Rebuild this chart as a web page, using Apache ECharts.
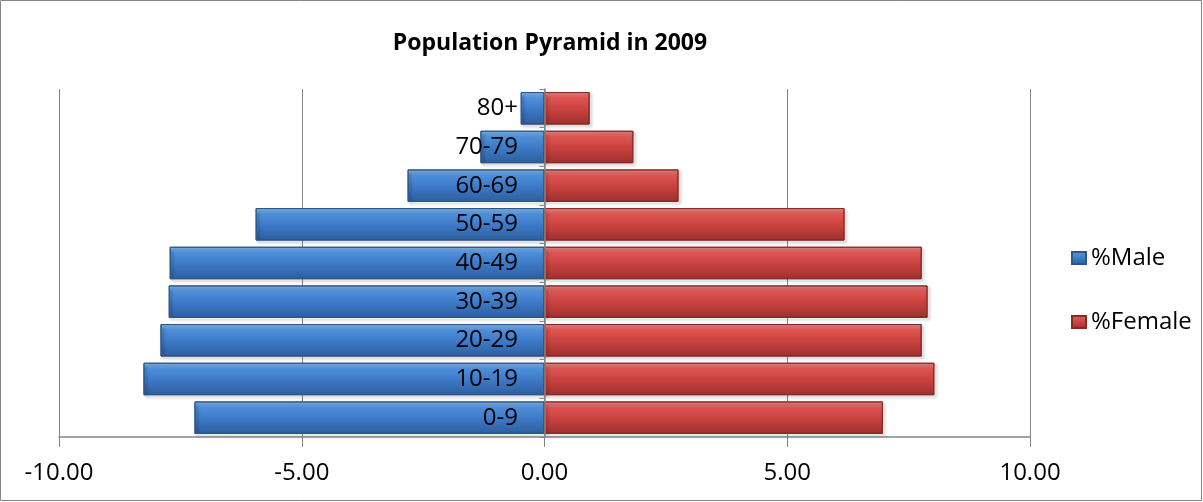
<!DOCTYPE html>
<html>
<head>
<meta charset="utf-8">
<script src="https://cdn.jsdelivr.net/npm/echarts@6/dist/echarts.min.js"></script>
<style>
  html, body { margin: 0; padding: 0; background: #fff; }
  #chart { width: 1203px; height: 502px; }
</style>
</head>
<body>
<div id="chart"></div>
<script>
const ageGroups = ['0-9', '10-19', '20-29', '30-39', '40-49', '50-59', '60-69', '70-79', '80+'];
const malePct = [7.21, 8.26, 7.91, 7.74, 7.72, 5.95, 2.82, 1.32, 0.49];
const femalePct = [6.97, 8.03, 7.77, 7.89, 7.77, 6.18, 2.76, 1.83, 0.93];
const xTicks = [-10, -5, 0, 5, 10];

const chart = echarts.init(document.getElementById('chart'));

// bevelled look: light top edge, darker bottom
const blueFill = new echarts.graphic.LinearGradient(0, 0, 0, 1, [
    { offset: 0, color: '#93c8f6' },
    { offset: 0.18, color: '#4f8fda' },
    { offset: 0.55, color: '#3c78c6' },
    { offset: 1, color: '#2e5e9c' }
]);
const redFill = new echarts.graphic.LinearGradient(0, 0, 0, 1, [
    { offset: 0, color: '#f49a98' },
    { offset: 0.18, color: '#de5552' },
    { offset: 0.55, color: '#c9413f' },
    { offset: 1, color: '#9c302e' }
]);

const barShadow = {
    shadowBlur: 3,
    shadowOffsetX: 2,
    shadowOffsetY: 2,
    shadowColor: 'rgba(0,0,0,0.3)'
};

const gridLeft = 59;

const option = {
    backgroundColor: '#fff',
    textStyle: { fontFamily: '"Open Sans", "Noto Sans", sans-serif' },
    title: {
        text: 'Population Pyramid in 2009',
        left: 545,
        textAlign: 'center',
        top: 27,
        textStyle: { fontSize: 23, fontWeight: 'bold', color: '#000', fontFamily: '"Open Sans", sans-serif' }
    },
    graphic: [{
        type: 'rect',
        shape: { x: 0.5, y: 0.5, width: 1201, height: 500 },
        style: { fill: 'none', stroke: '#868686', lineWidth: 1 },
        silent: true
    }],
    legend: {
        orient: 'vertical',
        left: 1066,
        top: 240,
        itemGap: 38,
        itemWidth: 14,
        itemHeight: 12,
        icon: 'rect',
        textStyle: { fontSize: 24, lineHeight: 26, color: '#000', padding: [0, 0, 0, 0] },
        data: ['%Male', '%Female']
    },
    grid: { left: gridLeft, right: 173, top: 89, bottom: 65 },
    xAxis: {
        type: 'value',
        min: -10,
        max: 10,
        interval: 5,
        axisLine: { show: true, lineStyle: { color: '#868686', width: 1.5 } },
        axisTick: { show: true, length: 10, lineStyle: { color: '#868686' } },
        splitLine: { show: true, lineStyle: { color: '#868686', width: 1 } },
        axisLabel: {
            fontSize: 24,
            color: '#000',
            margin: 24,
            formatter: v => xTicks.includes(v) ? v.toFixed(2) : ''
        }
    },
    yAxis: {
        type: 'category',
        data: ageGroups,
        z: 10,
        axisLine: { show: true, onZero: true, lineStyle: { color: '#868686', width: 1.5 } },
        axisTick: { show: true, length: 5, lineStyle: { color: '#868686' } },
        // labels sit just left of the zero line, over the male bars
        axisLabel: { fontSize: 24, color: '#000', margin: -459 }
    },
    series: [
        {
            name: '%Male',
            type: 'bar',
            stack: 'pyr',
            barCategoryGap: '16%',
            data: malePct.map(v => -v),
            itemStyle: Object.assign({ color: blueFill, borderColor: '#2b5689', borderWidth: 1 }, barShadow)
        },
        {
            name: '%Female',
            type: 'bar',
            stack: 'pyr',
            barCategoryGap: '16%',
            data: femalePct,
            itemStyle: Object.assign({ color: redFill, borderColor: '#8a2a28', borderWidth: 1 }, barShadow)
        }
    ]
};

chart.setOption(option);
</script>
</body>
</html>
